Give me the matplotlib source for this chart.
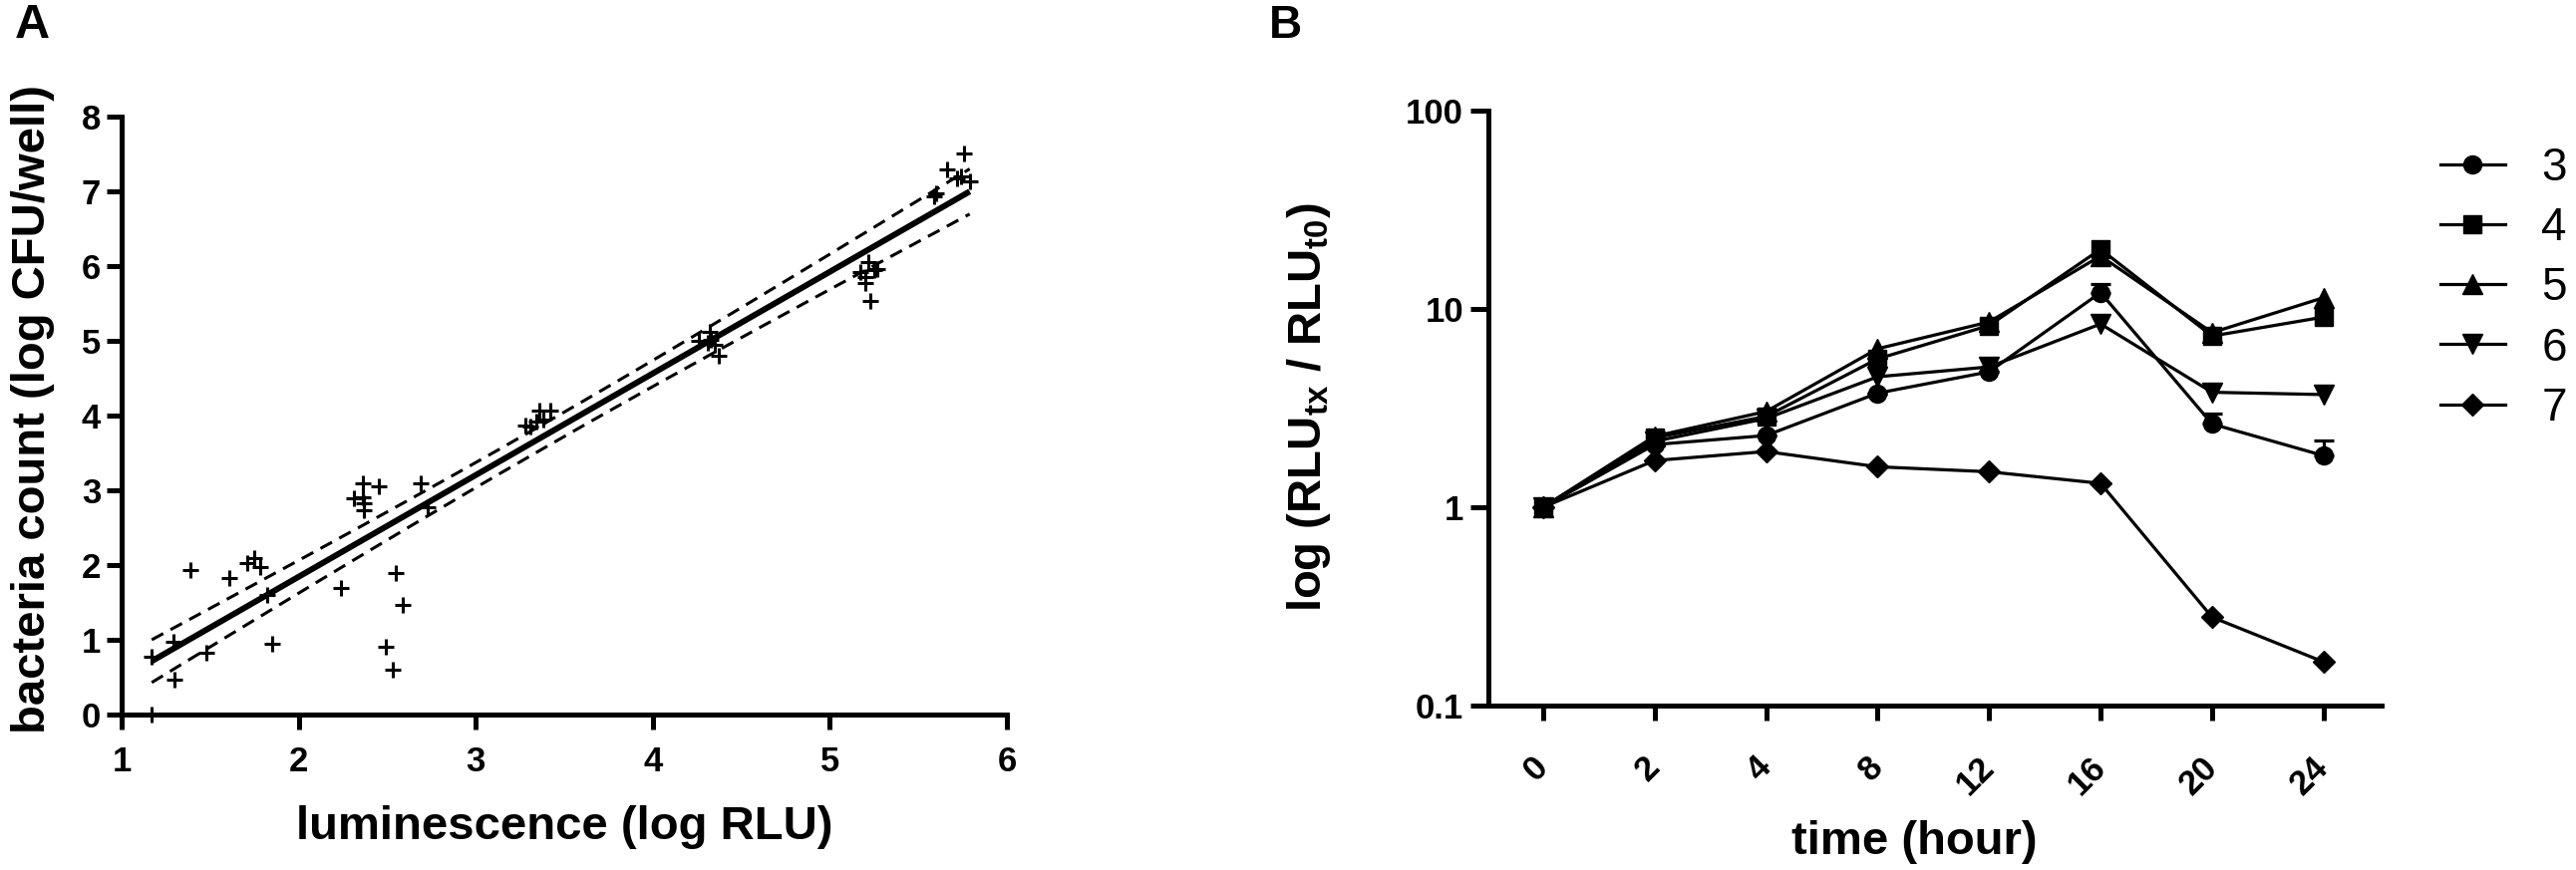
import numpy as np
import matplotlib
matplotlib.use("Agg")
import matplotlib.pyplot as plt
from matplotlib.lines import Line2D
from matplotlib.ticker import FixedLocator, NullLocator

plt.rcParams['font.family'] = ['Liberation Sans', 'DejaVu Sans']
plt.rcParams['mathtext.fontset'] = 'custom'
plt.rcParams['mathtext.bf'] = 'Liberation Sans:bold'
plt.rcParams['mathtext.rm'] = 'Liberation Sans:bold'

# ---------------- Panel A data ----------------
lum_x = [1.17, 1.17, 1.29, 1.30, 1.39, 1.48, 1.61, 1.71, 1.75, 1.78, 1.82, 1.85,
         2.24, 2.31, 2.36, 2.36, 2.37, 2.37, 2.45, 2.49, 2.53, 2.55, 2.59, 2.69, 2.73,
         3.28, 3.31, 3.34, 3.36, 3.38, 3.42,
         4.26, 4.31, 4.32, 4.33, 4.35, 4.37,
         5.17, 5.20, 5.20, 5.22, 5.23, 5.25, 5.27,
         5.59, 5.60, 5.66, 5.72, 5.74, 5.76, 5.79]
cfu_y = [0.00, 0.78, 0.97, 0.47, 1.94, 0.83, 1.83, 2.03, 2.09, 1.98, 1.60, 0.95,
         1.69, 2.90, 3.09, 2.91, 2.83, 2.74, 3.06, 0.91, 0.60, 1.89, 1.47, 3.09, 2.78,
         3.87, 3.85, 3.92, 4.07, 3.95, 4.07,
         5.00, 4.97, 5.12, 5.02, 4.94, 4.80,
         5.92, 5.85, 5.78, 6.05, 5.54, 5.94, 5.96,
         6.94, 6.98, 7.30, 7.17, 7.20, 7.51, 7.14]
a_xticks = [1, 2, 3, 4, 5, 6]
a_yticks = [0, 1, 2, 3, 4, 5, 6, 7, 8]

# ---------------- Panel B data ----------------
time_labels = ['0', '2', '4', '8', '12', '16', '20', '24']
series_names = ['3', '4', '5', '6', '7']
s3 = [1.0, 2.07, 2.30, 3.76, 4.82, 12.1, 2.63, 1.82]
s3_err = [0.0, 0.0, 0.0, 0.0, 0.0, 1.3, 0.35, 0.34]
s4 = [1.0, 2.24, 2.87, 5.6, 8.25, 20.0, 7.3, 9.1]
s5 = [1.0, 2.28, 3.04, 6.3, 8.6, 18.5, 7.6, 11.4]
s6 = [1.0, 2.15, 2.80, 4.55, 5.1, 8.4, 3.8, 3.7]
s7 = [1.0, 1.72, 1.91, 1.60, 1.51, 1.32, 0.279, 0.166]
b_yticks = [0.1, 1, 10, 100]
b_yticklabels = ['0.1', '1', '10', '100']

W, H = 2584, 873
fig = plt.figure(figsize=(W / 100, H / 100), dpi=100)

def fx(px):
    return px / W

def fy(py):
    return 1 - py / H

SPINE = 3.6
TICKLEN = 11
TICKFS = 25
LABELFS = 34

# ---------------- Panel A ----------------
axA = fig.add_axes([fx(122), fy(717), (1010 - 122) / W, (717 - 117) / H])
x = np.array(lum_x)
y = np.array(cfu_y)
slope, intercept = np.polyfit(x, y, 1)
n = len(x)
resid = y - (slope * x + intercept)
s = np.sqrt(np.sum(resid ** 2) / (n - 2))
sxx = np.sum((x - x.mean()) ** 2)
xs = np.linspace(x.min(), x.max(), 200)
ys = slope * xs + intercept
half = 2.005 * s * np.sqrt(1.0 / n + (xs - x.mean()) ** 2 / sxx)

axA.plot(x, y, linestyle='none', marker='+', markersize=11, markeredgewidth=2.2,
         color='black', clip_on=False, zorder=3)
axA.plot(xs, ys, color='black', lw=4.3, solid_capstyle='butt', zorder=4)
axA.plot(xs, ys + half, color='black', lw=2.2, linestyle=(0, (4.3, 2.7)), zorder=4)
axA.plot(xs, ys - half, color='black', lw=2.2, linestyle=(0, (4.3, 2.7)), zorder=4)
axA.set_xlim(1, 6)
axA.set_ylim(0, 8)
axA.set_xticks(a_xticks)
axA.set_yticks(a_yticks)
axA.set_xticklabels([str(v) for v in a_xticks], fontsize=TICKFS, fontweight='bold')
axA.set_yticklabels([str(v) for v in a_yticks], fontsize=TICKFS, fontweight='bold')
axA.tick_params(axis='x', length=TICKLEN, width=SPINE, pad=11)
axA.tick_params(axis='y', length=TICKLEN, width=SPINE, pad=4)

# ---------------- Panel B ----------------
axB = fig.add_axes([fx(1493), fy(708), (2389 - 1493) / W, (708 - 111) / H])
idx = np.arange(len(time_labels))
lw = 2.3
axB.errorbar(idx, s3, yerr=[np.zeros(len(s3)), s3_err], color='black', lw=lw,
             marker='o', markersize=13, capsize=7, capthick=lw, elinewidth=lw,
             clip_on=False, zorder=3)
axB.plot(idx, s4, color='black', lw=lw, marker='s', markersize=12.5, clip_on=False, zorder=3)
axB.plot(idx, s5, color='black', lw=lw, marker='^', markersize=14, clip_on=False, zorder=3)
axB.plot(idx, s6, color='black', lw=lw, marker='v', markersize=14, clip_on=False, zorder=3)
axB.plot(idx, s7, color='black', lw=lw, marker='D', markersize=11.5, clip_on=False, zorder=3)
axB.set_yscale('log')
axB.set_ylim(0.1, 100)
axB.set_xlim(-0.49, 7.52)
axB.yaxis.set_major_locator(FixedLocator(b_yticks))
axB.yaxis.set_minor_locator(NullLocator())
axB.set_yticklabels(b_yticklabels, fontsize=TICKFS, fontweight='bold')
axB.set_xticks(idx)
axB.set_xticklabels(time_labels, fontsize=TICKFS, fontweight='bold',
                    rotation=45, ha='right', va='center', rotation_mode='anchor')
axB.tick_params(axis='x', length=TICKLEN, width=SPINE, pad=30)
axB.tick_params(axis='y', length=13, width=SPINE, pad=5)

for ax in (axA, axB):
    for side in ('top', 'right'):
        ax.spines[side].set_visible(False)
    for side in ('left', 'bottom'):
        ax.spines[side].set_linewidth(SPINE)
        ax.spines[side].set_capstyle('projecting')

# ---------------- Labels ----------------
fig.text(fx(32), fy(25), 'A', fontsize=35, fontweight='bold', ha='center', va='center')
fig.text(fx(1289), fy(26), 'B', fontsize=33, fontweight='bold', ha='center', va='center')
fig.text(fx(566), fy(830), 'luminescence (log RLU)', fontsize=LABELFS, fontweight='bold',
         ha='center', va='center')
fig.text(fx(33), fy(411), 'bacteria count (log CFU/well)', fontsize=LABELFS,
         fontweight='bold', ha='center', va='center', rotation=90)
fig.text(fx(1920), fy(845), 'time (hour)', fontsize=LABELFS, fontweight='bold',
         ha='center', va='center')
fig.text(fx(1313), fy(409), r'log (RLU$_{\mathbf{tx}}$ / RLU$_{\mathbf{t0}}$)',
         fontsize=LABELFS, fontweight='bold', ha='center', va='center', rotation=90)

# ---------------- Legend ----------------
handles = [
    Line2D([], [], color='black', lw=lw, marker='o', markersize=13),
    Line2D([], [], color='black', lw=lw, marker='s', markersize=12.5),
    Line2D([], [], color='black', lw=lw, marker='^', markersize=14),
    Line2D([], [], color='black', lw=lw, marker='v', markersize=14),
    Line2D([], [], color='black', lw=lw, marker='D', markersize=11.5),
]
fig.legend(handles, series_names, loc='center left', bbox_to_anchor=(fx(2448), fy(289.5)),
           frameon=False, fontsize=33, handlelength=1.41, handletextpad=0.8,
           labelspacing=0.35, borderpad=0, borderaxespad=0)

fig.savefig('out.png', dpi=100)
